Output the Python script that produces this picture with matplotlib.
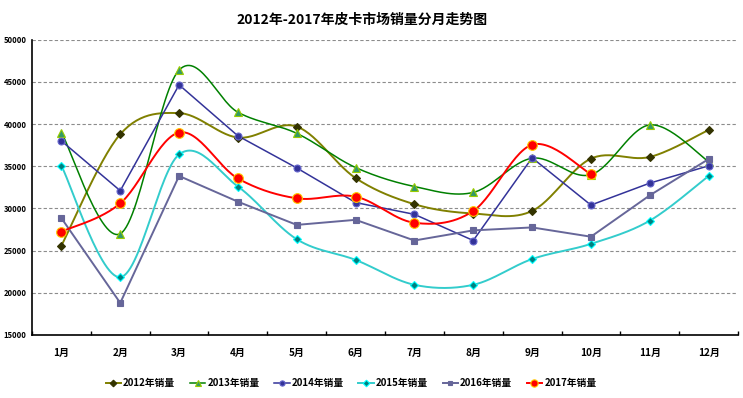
import numpy as np
import matplotlib
matplotlib.use('Agg')
import matplotlib.pyplot as plt
from matplotlib.ticker import MultipleLocator

plt.rcParams['font.family'] = ['Noto Sans CJK SC', 'DejaVu Sans']

months = ['1月', '2月', '3月', '4月', '5月', '6月', '7月', '8月', '9月', '10月', '11月', '12月']

sales_2012 = [25600, 38800, 41300, 38400, 39700, 33600, 30500, 29400, 29700, 35900, 36100, 39300]
sales_2013 = [39000, 27000, 46400, 41400, 38900, 34850, 32600, 31900, 35950, 34000, 39900, 35550]
sales_2014 = [38000, 32100, 44650, 38600, 34800, 30700, 29300, 26200, 36000, 30400, 33000, 35050]
sales_2015 = [35050, 21850, 36400, 32600, 26350, 23900, 20950, 20950, 24000, 25800, 28550, 33850]
sales_2016 = [28850, 18800, 33850, 30800, 28050, 28650, 26200, 27400, 27750, 26650, 31550, 35850]
sales_2017 = [27250, 30600, 39000, 33550, 31200, 31400, 28300, 29700, 37550, 34050]


def smooth(x, y, n=30):
    # catmull-rom style bezier, roughly what excel does for smoothed lines
    x = np.asarray(x, float)
    y = np.asarray(y, float)
    px = np.concatenate([[x[0]], x, [x[-1]]])
    py = np.concatenate([[y[0]], y, [y[-1]]])
    t = np.linspace(0, 1, n)[:, None]
    xs, ys = [], []
    for i in range(1, len(px) - 2):
        p0 = np.array([px[i], py[i]])
        p3 = np.array([px[i + 1], py[i + 1]])
        b1 = p0 + (p3 - np.array([px[i - 1], py[i - 1]])) / 6
        b2 = p3 - (np.array([px[i + 2], py[i + 2]]) - p0) / 6
        pts = ((1 - t) ** 3) * p0 + 3 * ((1 - t) ** 2) * t * b1 + 3 * (1 - t) * t ** 2 * b2 + t ** 3 * p3
        xs.append(pts[:, 0])
        ys.append(pts[:, 1])
    return np.concatenate(xs), np.concatenate(ys)


fig = plt.figure(figsize=(7.43, 3.98), dpi=100)
ax = fig.add_axes([32 / 743, 1 - 335 / 398, 706 / 743, (335 - 39.7) / 398])

series = [
    ('2012年销量', sales_2012, True, dict(color='#808000', lw=1.4, marker='D', ms=4.5, mfc='#333300', mec='#333300')),
    ('2013年销量', sales_2013, True, dict(color='#008000', lw=1.1, marker='^', ms=6, mfc='#339966', mec='#99cc00')),
    ('2014年销量', sales_2014, False, dict(color='#333399', lw=1.1, marker='o', ms=5, mfc='#333399', mec='#6666cc')),
    ('2015年销量', sales_2015, True, dict(color='#33cccc', lw=1.4, marker='D', ms=4.5, mfc='#008080', mec='#00ffff')),
    ('2016年销量', sales_2016, False, dict(color='#666699', lw=1.4, marker='s', ms=4.5, mfc='#666699', mec='#666699')),
    ('2017年销量', sales_2017, True, dict(color='#ff0000', lw=1.4, marker='o', ms=7, mfc='#ff0000', mec='#ffcc00')),
]

for label, vals, smoothed, st in series:
    xpos = np.arange(len(vals))
    if smoothed:
        sx, sy = smooth(xpos, vals)
    else:
        sx, sy = xpos, np.asarray(vals)
    ax.plot(sx, sy, color=st['color'], lw=st['lw'], zorder=2)
    ax.plot(xpos, vals, ls='none', marker=st['marker'], ms=st['ms'],
            mfc=st['mfc'], mec=st['mec'], mew=0.8, zorder=3)
    # proxy for legend
    ax.plot([], [], color=st['color'], lw=st['lw'], marker=st['marker'], ms=st['ms'] * 0.75,
            mfc=st['mfc'], mec=st['mec'], mew=0.8, label=label)

ax.set_xlim(-0.5, 11.5)
ax.set_ylim(15000, 50000)
ax.yaxis.set_major_locator(MultipleLocator(5000))
ax.grid(axis='y', ls=(0, (3, 2)), color='#8c8c8c', lw=0.8)
ax.set_axisbelow(True)

ax.set_xticks(np.arange(len(months)))
ax.set_xticklabels(months, fontsize=7.2, fontweight='bold')
ax.set_xticks(np.arange(-0.5, 12, 1), minor=True)
ax.tick_params(axis='x', which='major', length=0, pad=9)
ax.tick_params(axis='x', which='minor', direction='in', length=3, width=1, color='black')
ax.tick_params(axis='y', length=0, pad=4, labelsize=5.5)
for lab in ax.get_yticklabels():
    lab.set_fontweight('bold')

ax.spines['top'].set_visible(False)
ax.spines['right'].set_visible(False)
ax.spines['left'].set_linewidth(1.2)
ax.spines['bottom'].set_linewidth(1.2)

fig.text(362 / 743, 1 - 20 / 398, '2012年-2017年皮卡市场销量分月走势图', ha='center', va='center',
         fontsize=10, fontweight='bold')

fig.legend(loc='center', bbox_to_anchor=(351 / 743, 1 - 383 / 398), ncol=6, frameon=False,
           prop={'size': 7, 'weight': 'bold'}, handlelength=1.6, handletextpad=0.2,
           columnspacing=1.5)

fig.savefig('out.png', dpi=100)
